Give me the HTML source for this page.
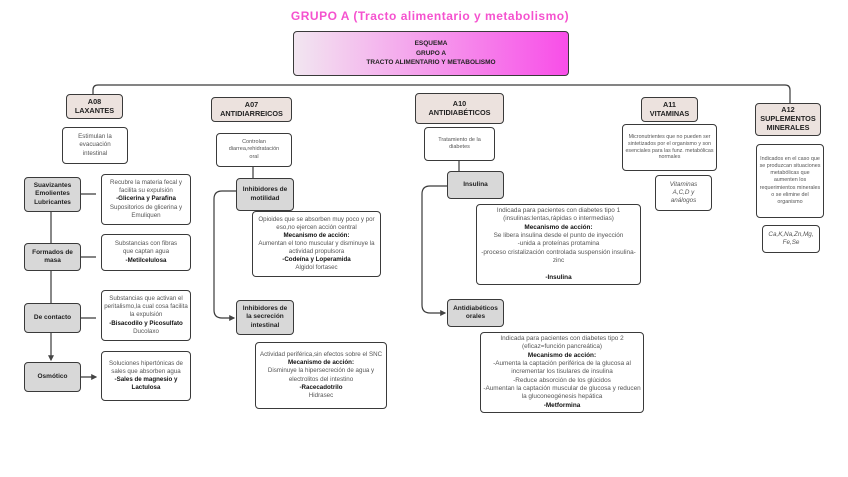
<!DOCTYPE html>
<html><head><meta charset="utf-8"><style>
*{margin:0;padding:0;box-sizing:border-box}
body{width:848px;height:477px;background:#fff;position:relative;overflow:hidden;font-family:"Liberation Sans",sans-serif;color:#333}
.b{position:absolute;border:1.3px solid #3a3a3a;border-radius:4px;background:#fff;display:flex;align-items:center;justify-content:center;text-align:center;font-size:6.2px;line-height:1.3;color:#555;padding:2px}
.b>span{display:block;width:100%}
.h{background:#ece2de;font-weight:bold;color:#222;font-size:7.3px;line-height:1.2;border-width:1.6px}
.g{background:#d8d8d8;font-weight:bold;color:#222;font-size:6.5px;border-width:1.6px}
b{color:#111}
svg{position:absolute;left:0;top:0}
</style></head><body>
<svg width="848" height="477">
<defs><marker id="a" markerWidth="5" markerHeight="5" refX="4" refY="2.5" orient="auto"><path d="M0,0L5,2.5L0,5z" fill="#444"/></marker></defs>
<g fill="none" stroke="#3a3a3a" stroke-width="1.2">
<path d="M93,94V90Q93,85 98,85H785Q790,85 790,90V103"/>
<path d="M51,212V243M51,270V303M51,333V360" marker-end="url(#a)"/>
<path d="M80,194H96M80,257H96M80,318H96M80,377H96" marker-end="url(#a)"/>
<path d="M253,166V178M459,160V171"/>
<path d="M236,191H222Q214,191 214,199V310Q214,318 222,318H234" marker-end="url(#a)"/>
<path d="M447,186H430Q422,186 422,194V305Q422,313 430,313H445" marker-end="url(#a)"/>
</g></svg>
<div style="position:absolute;left:0;width:860px;top:9px;text-align:center;font-size:12px;letter-spacing:0.5px;font-weight:bold;color:#f552cf">GRUPO A (Tracto alimentario y metabolismo)</div>
<div class="b" style="left:293px;top:31px;width:276px;height:45px;background:linear-gradient(90deg,#f2e6f0,#f84ee8);font-weight:bold;color:#222;font-size:6.5px;line-height:1.45;border-width:1.6px"><span>ESQUEMA<br>GRUPO A<br>TRACTO ALIMENTARIO Y METABOLISMO</span></div>
<div class="b h" style="left:66px;top:94px;width:57px;height:25px"><span>A08<br>LAXANTES</span></div>
<div class="b h" style="left:211px;top:97px;width:81px;height:25px"><span>A07<br>ANTIDIARREICOS</span></div>
<div class="b h" style="left:415px;top:93px;width:89px;height:31px"><span>A10<br>ANTIDIABÉTICOS</span></div>
<div class="b h" style="left:641px;top:97px;width:57px;height:25px"><span>A11<br>VITAMINAS</span></div>
<div class="b h" style="left:755px;top:103px;width:66px;height:33px"><span>A12<br>SUPLEMENTOS<br>MINERALES</span></div>

<div class="b" style="left:62px;top:127px;width:66px;height:37px"><span>Estimulan la<br>evacuación<br>intestinal</span></div>
<div class="b g" style="left:24px;top:177px;width:57px;height:35px"><span>Suavizantes<br>Emolientes<br>Lubricantes</span></div>
<div class="b" style="left:101px;top:174px;width:90px;height:51px"><span>Recubre la materia fecal y facilita su expulsión<br><b>-Glicerina y Parafina</b><br>Supositorios de glicerina y Emuliquen</span></div>
<div class="b g" style="left:24px;top:243px;width:57px;height:28px"><span>Formados de<br>masa</span></div>
<div class="b" style="left:101px;top:234px;width:90px;height:37px"><span>Substancias con fibras<br>que captan agua<br><b>-Metilcelulosa</b></span></div>
<div class="b g" style="left:24px;top:303px;width:57px;height:30px"><span>De contacto</span></div>
<div class="b" style="left:101px;top:290px;width:90px;height:51px"><span>Substancias que activan el peritalismo,la cual cosa facilita la expulsión<br><b>-Bisacodilo y Picosulfato</b><br>Ducolaxo</span></div>
<div class="b g" style="left:24px;top:362px;width:57px;height:30px"><span>Osmótico</span></div>
<div class="b" style="left:101px;top:351px;width:90px;height:50px"><span>Soluciones hipertónicas de sales que absorben agua<br><b>-Sales de magnesio y Lactulosa</b></span></div>

<div class="b" style="left:216px;top:133px;width:76px;height:34px;font-size:5.5px"><span>Controlan<br>diarrea,rehidratación<br>oral</span></div>
<div class="b g" style="left:236px;top:178px;width:58px;height:33px"><span>Inhibidores de<br>motilidad</span></div>
<div class="b" style="left:252px;top:211px;width:129px;height:66px"><span>Opioides que se absorben muy poco y por eso,no ejercen acción central<br><b>Mecanismo de acción:</b><br>Aumentan el tono muscular y disminuye la actividad propulsora<br><b>-Codeína y Loperamida</b><br>Algidol fortasec</span></div>
<div class="b g" style="left:236px;top:300px;width:58px;height:35px"><span>Inhibidores de<br>la secreción<br>intestinal</span></div>
<div class="b" style="left:255px;top:342px;width:132px;height:67px"><span>Actividad periférica,sin efectos sobre el SNC<br><b>Mecanismo de acción:</b><br>Disminuye la hipersecreción de agua y electrolitos del intestino<br><b>-Racecadotrilo</b><br>Hidrasec</span></div>

<div class="b" style="left:424px;top:127px;width:71px;height:34px;font-size:5.5px"><span>Tratamiento de la<br>diabetes</span></div>
<div class="b g" style="left:447px;top:171px;width:57px;height:28px"><span>Insulina</span></div>
<div class="b" style="left:476px;top:204px;width:165px;height:81px;font-size:6.4px"><span>Indicada para pacientes con diabetes tipo 1 (insulinas:lentas,rápidas o intermedias)<br><b>Mecanismo de acción:</b><br>Se libera insulina desde el punto de inyección<br>-unida a proteínas protamina<br>-proceso cristalización controlada suspensión insulina- zinc<br><br><b>-Insulina</b></span></div>
<div class="b g" style="left:447px;top:299px;width:57px;height:28px"><span>Antidiabéticos<br>orales</span></div>
<div class="b" style="left:480px;top:332px;width:164px;height:81px;font-size:6.4px"><span>Indicada para pacientes con diabetes tipo 2 (eficaz=función pancreática)<br><b>Mecanismo de acción:</b><br>-Aumenta la captación periférica de la glucosa al incrementar los tisulares de insulina<br>-Reduce absorción de los glúcidos<br>-Aumentan la captación muscular de glucosa y reducen la gluconeogénesis hepática<br><b>-Metformina</b></span></div>

<div class="b" style="left:622px;top:124px;width:95px;height:47px;font-size:5.3px"><span>Micronutrientes que no pueden ser sintetizados por el organismo y son esenciales para las funz. metabólicas normales</span></div>
<div class="b" style="left:655px;top:175px;width:57px;height:36px;font-style:italic;font-size:6.3px"><span>Vitaminas<br>A,C,D y<br>análogos</span></div>
<div class="b" style="left:756px;top:144px;width:68px;height:74px;font-size:5.4px"><span>Indicados en el caso que se produzcan situaciones metabólicas que aumenten los requerimientos minerales o se elimine del organismo</span></div>
<div class="b" style="left:762px;top:225px;width:58px;height:28px;font-style:italic;font-size:6.3px"><span>Ca,K,Na,Zn,Mg,<br>Fe,Se</span></div>
</body></html>
